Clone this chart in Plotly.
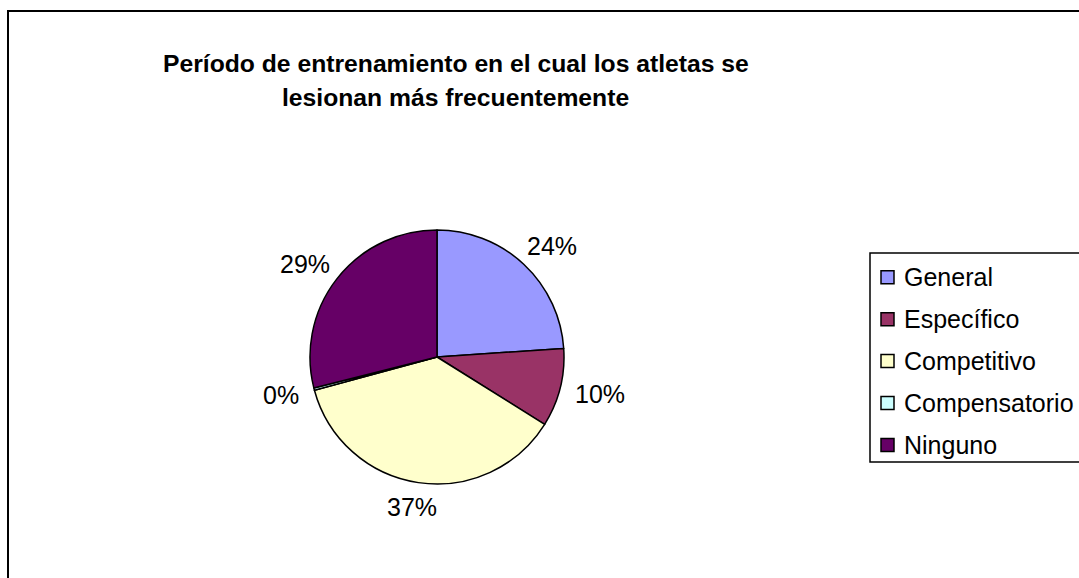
import math
import plotly.graph_objects as go

# Training period in which athletes get injured most often
categories = ["General", "Específico", "Competitivo", "Compensatorio", "Ninguno"]
shares = [24, 10, 37, 0.3, 29]
colors = ["#9999FF", "#993366", "#FFFFCC", "#CCFFFF", "#660066"]
title_lines = ["Período de entrenamiento en el cual los atletas se",
               "lesionan más frecuentemente"]

W, H = 1079, 578
FONT = "Liberation Sans, Arial, Helvetica, sans-serif"
LABEL_SIZE = 25

# pie geometry in pixels
cx, cy, r = 437, 357, 127


def px(x):
    return x / W


def py(y):
    return 1 - y / H


fig = go.Figure(
    go.Pie(
        labels=categories,
        values=shares,
        sort=False,
        direction="clockwise",
        rotation=0,
        marker=dict(colors=colors, line=dict(color="black", width=1.5)),
        textinfo="none",
        hoverinfo="label+percent",
        showlegend=False,
        domain=dict(x=[px(cx - r), px(cx + r)], y=[py(cy + r), py(cy - r)]),
    )
)

annotations = []
shapes = []

# percentage labels: text box pushed outward from the slice's mid-angle
total = sum(shares)
cum = 0.0
ring = r + 16
for v in shares:
    mid = 2 * math.pi * (cum + v / 2) / total
    cum += v
    txt = f"{round(v / total * 100)}%"
    ux, uy = math.sin(mid), -math.cos(mid)
    tw = LABEL_SIZE * (0.556 * (len(txt) - 1) + 0.889)
    th = LABEL_SIZE * 0.72
    lx = cx + ring * ux + ux * tw / 2
    ly = cy + ring * uy + uy * th / 2
    annotations.append(dict(
        x=px(lx), y=py(ly), xref="paper", yref="paper",
        text=txt, showarrow=False,
        xanchor="center", yanchor="middle",
        font=dict(family=FONT, size=LABEL_SIZE, color="black"),
    ))

# title, one annotation per line
for i, line in enumerate(title_lines):
    annotations.append(dict(
        x=px(455.5), y=py(63.5 + i * 34), xref="paper", yref="paper",
        text=line, showarrow=False, xanchor="center", yanchor="middle",
        font=dict(family=FONT, size=24.7, color="black", weight="bold"),
    ))

# legend box
leg_x0, leg_y0, leg_y1 = 870, 253, 462
shapes.append(dict(type="rect", xref="paper", yref="paper",
                   x0=px(leg_x0), x1=px(W + 10), y0=py(leg_y1), y1=py(leg_y0),
                   line=dict(color="black", width=1.5), fillcolor="white", layer="above"))
first_y, step, sw = 277.3, 41.9, 13
for i, (name, col) in enumerate(zip(categories, colors)):
    yc = first_y + i * step
    shapes.append(dict(type="rect", xref="paper", yref="paper",
                       x0=px(881), x1=px(881 + sw), y0=py(yc + sw / 2), y1=py(yc - sw / 2),
                       line=dict(color="black", width=1.5), fillcolor=col, layer="above"))
    annotations.append(dict(
        x=px(902), y=py(yc), xref="paper", yref="paper",
        text=name, showarrow=False, xanchor="left", yanchor="middle",
        font=dict(family=FONT, size=LABEL_SIZE, color="black"),
    ))

# outer chart frame
shapes.append(dict(type="rect", xref="paper", yref="paper",
                   x0=px(8), x1=px(W + 20), y0=py(H + 20), y1=py(11),
                   line=dict(color="black", width=2), fillcolor="rgba(0,0,0,0)", layer="below"))

fig.update_layout(
    width=W, height=H,
    margin=dict(l=0, r=0, t=0, b=0),
    paper_bgcolor="white",
    plot_bgcolor="white",
    annotations=annotations,
    shapes=shapes,
)

fig.write_html("out.html")
